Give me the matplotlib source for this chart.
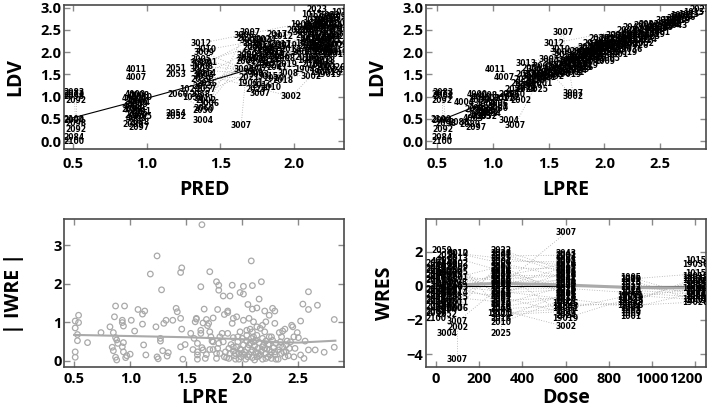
import matplotlib
matplotlib.use("Agg")
import matplotlib.pyplot as plt
from matplotlib.transforms import ScaledTranslation

# observations: subject id, population pred, individual pred (log), log DV, dose, WRES
ID = [
    # pred ~0.5
    2083, 2073, 2098, 2092, 2100, 2094, 2098, 2092, 2084, 2100,
    # pred ~0.9
    4011, 4007, 4000, 4008, 4010, 4002, 4006, 4004, 4009, 4001,
    2097, 2099, 2096, 2091, 2095, 2093, 4005, 4003, 2088, 2089,
    # pred ~1.2-1.4
    2051, 2053, 2060, 2054, 2052, 1052, 1024, 3004, 2050, 2060,
    3012, 3013, 3002, 3010, 3009, 3005, 3001, 3008, 3003, 3014,
    3015, 2059, 2056, 2055, 2057, 2058, 3011, 3006, 3007, 2002,
    # dose 300
    2022, 2028, 2025, 3006, 3001, 3014, 2030, 2011, 2036, 2006,
    2009, 2013, 2026, 2041, 3005, 3009, 3003, 3015, 2020, 2018,
    19001, 2016, 2010, 2025, 3008, 3002, 2008, 2050, 2055, 2057, 3007,
    2001, 2004, 2007, 2012, 2014, 2015, 2017, 2019, 2021, 2024,
    # dose 600
    3007, 2043, 2003, 2005, 2011, 2013, 2022, 2028, 2036, 2041,
    2006, 2009, 2020, 2026, 2030, 2016, 2018, 2010, 2023, 19026,
    19043, 19001, 19019, 3002, 3010, 3012, 3013, 3001, 3005, 3009,
    2001, 2004, 2007, 2012, 2014, 2015, 2017, 2019, 2021, 2024,
    # dose 900
    1001, 1005, 1009, 1015, 1019, 1023, 1024, 1052, 19001, 19019,
    19036, 19043, 19026, 1001, 1005, 1009, 1015, 1019, 1023, 1024,
    # dose 1200
    1015, 19036, 19019, 19043, 1001, 1005, 1009, 1019, 1023, 1024,
    1052, 19001, 19026, 1015, 19036, 19019, 1001, 1005, 1009, 1052,
]

PRED = [
    0.51, 0.51, 0.51, 0.52, 0.51, 0.51, 0.52, 0.52, 0.51, 0.51,
    0.93, 0.93, 0.92, 0.95, 0.97, 0.90, 0.93, 0.96, 0.94, 0.91,
    0.95, 0.92, 0.90, 0.96, 0.94, 0.92, 0.97, 0.93, 0.95, 0.91,
    1.20, 1.20, 1.21, 1.20, 1.20, 1.31, 1.29, 1.38, 1.38, 1.39,
    1.37, 1.36, 1.38, 1.40, 1.39, 1.37, 1.41, 1.38, 1.36, 1.40,
    1.39, 1.37, 1.41, 1.38, 1.40, 1.36, 1.39, 1.42, 1.64, 1.40,
    1.68, 1.72, 1.75, 1.66, 1.70, 1.78, 1.82, 1.86, 1.90, 1.68,
    1.74, 1.80, 1.84, 1.88, 1.66, 1.72, 1.76, 1.82, 1.86, 1.92,
    1.70, 1.78, 1.84, 1.74, 1.96, 1.98, 1.94, 1.68, 1.80, 1.88, 1.77,
    1.67, 1.71, 1.75, 1.79, 1.83, 1.87, 1.91, 1.95, 1.69, 1.81,
    1.70, 2.06, 2.10, 2.14, 2.08, 2.18, 2.22, 2.12, 2.16, 2.20,
    2.05, 2.24, 2.10, 2.14, 2.18, 2.07, 2.21, 2.12, 2.15, 2.26,
    2.09, 2.19, 2.23, 2.11, 2.17, 2.13, 2.20, 2.06, 2.25, 2.28,
    1.72, 1.78, 1.85, 1.92, 1.98, 1.76, 1.88, 1.95, 2.02, 1.82,
    2.10, 2.15, 2.20, 2.25, 2.30, 2.08, 2.12, 2.18, 2.22, 2.27,
    2.31, 2.06, 2.14, 2.19, 2.24, 2.29, 2.09, 2.16, 2.21, 2.26,
    2.12, 2.18, 2.22, 2.27, 2.31, 2.14, 2.20, 2.25, 2.30, 2.11,
    2.17, 2.23, 2.28, 2.32, 2.15, 2.21, 2.26, 2.13, 2.19, 2.24,
]

LPRE = [
    0.56, 0.55, 0.56, 0.55, 0.54, 0.55, 0.58, 0.56, 0.55, 0.55,
    1.02, 1.10, 0.86, 0.95, 0.90, 0.98, 0.88, 0.75, 0.94, 1.05,
    0.85, 0.88, 0.84, 0.92, 0.96, 0.86, 0.90, 0.83, 0.70, 0.80,
    1.35, 1.30, 1.20, 0.98, 0.95, 1.15, 1.30, 1.15, 0.98, 1.05,
    1.55, 1.30, 1.37, 1.60, 1.62, 1.50, 1.55, 1.45, 1.40, 1.42,
    1.35, 1.28, 1.25, 1.30, 1.20, 1.15, 1.10, 1.05, 1.20, 1.25,
    1.95, 1.90, 1.85, 2.10, 2.00, 1.95, 1.85, 1.80, 1.75, 1.72,
    1.68, 1.70, 1.62, 1.58, 1.55, 1.52, 1.50, 1.45, 1.40, 1.38,
    1.42, 1.35, 1.30, 1.40, 1.60, 1.72, 1.88, 1.65, 1.78, 1.92, 1.72,
    1.70, 1.82, 1.60, 1.95, 1.75, 1.88, 2.02, 1.66, 1.48, 2.12,
    1.63, 2.25, 2.20, 2.35, 2.15, 2.05, 2.40, 2.10, 2.00, 1.95,
    1.90, 2.30, 2.12, 2.05, 1.98, 1.92, 1.85, 1.80, 2.85, 1.78,
    1.75, 1.70, 1.68, 1.55, 2.45, 2.55, 2.60, 2.50, 2.65, 2.70,
    2.00, 2.12, 1.88, 2.20, 1.95, 1.78, 2.25, 2.05, 2.32, 1.85,
    2.20, 2.25, 2.30, 2.35, 2.40, 2.15, 2.10, 2.05, 2.00, 1.95,
    2.45, 2.55, 2.50, 2.60, 2.28, 2.20, 1.90, 1.85, 1.80, 1.75,
    2.75, 2.70, 2.65, 2.62, 2.58, 2.52, 2.48, 2.45, 2.40, 2.38,
    2.35, 2.30, 2.28, 2.80, 2.22, 2.18, 2.12, 2.05, 2.00, 2.68,
]

LDV = [
    1.10, 1.04, 1.01, 0.92, 0.49, 0.45, 0.40, 0.26, 0.08, -0.02,
    1.60, 1.42, 1.05, 1.02, 0.98, 0.95, 0.90, 0.86, 0.82, 0.78,
    0.30, 0.74, 0.70, 0.66, 0.62, 0.58, 0.55, 0.50, 0.42, 0.38,
    1.62, 1.50, 1.05, 0.62, 0.56, 0.98, 1.15, 0.45, 0.68, 0.72,
    2.20, 1.75, 1.50, 2.05, 1.98, 1.84, 1.76, 1.68, 1.60, 1.52,
    1.45, 1.38, 1.30, 1.22, 1.15, 1.05, 0.95, 0.85, 0.35, 0.90,
    2.30, 2.20, 2.10, 2.38, 2.25, 2.15, 2.05, 1.98, 1.90, 1.85,
    1.80, 1.75, 1.70, 1.65, 1.60, 1.55, 1.50, 1.45, 1.40, 1.35,
    1.30, 1.25, 1.20, 1.16, 1.52, 1.00, 1.85, 1.92, 2.02, 2.12, 1.06,
    1.78, 1.95, 1.62, 2.08, 1.82, 2.00, 2.18, 1.72, 1.42, 2.28,
    2.44, 2.55, 2.48, 2.60, 2.38, 2.30, 2.62, 2.22, 2.15, 2.08,
    2.00, 2.35, 2.12, 2.02, 1.95, 1.88, 1.80, 1.72, 2.95, 1.65,
    1.60, 1.55, 1.50, 1.45, 2.50, 2.70, 2.65, 2.45, 2.75, 2.80,
    2.10, 2.25, 1.95, 2.35, 2.05, 1.85, 2.40, 2.15, 2.48, 1.90,
    2.30, 2.40, 2.35, 2.45, 2.50, 2.20, 2.15, 2.10, 2.05, 2.00,
    2.55, 2.62, 2.58, 2.70, 2.25, 2.18, 1.80, 1.70, 1.65, 1.58,
    2.85, 2.78, 2.70, 2.60, 2.65, 2.55, 2.52, 2.40, 2.35, 2.28,
    2.20, 2.25, 2.15, 2.90, 2.05, 2.00, 1.95, 1.85, 1.78, 2.82,
]

DOSE = [
    0, 0, 0, 0, 0, 0, 0, 0, 0, 0,
    25, 25, 25, 25, 25, 25, 25, 25, 25, 25,
    0, 0, 0, 0, 0, 50, 50, 50, 50, 50,
    50, 50, 50, 50, 50, 75, 75, 50, 75, 75,
    100, 100, 100, 100, 100, 100, 100, 100, 100, 100,
    100, 25, 75, 75, 75, 75, 100, 100, 100, 100,
    300, 300, 300, 300, 300, 300, 300, 300, 300, 300,
    300, 300, 300, 300, 300, 300, 300, 300, 300, 300,
    300, 300, 300, 300, 300, 300, 300, 300, 300, 300, 100,
    300, 300, 300, 300, 300, 300, 300, 300, 300, 300,
    600, 600, 600, 600, 600, 600, 600, 600, 600, 600,
    600, 600, 600, 600, 600, 600, 600, 600, 600, 600,
    600, 600, 600, 600, 600, 600, 600, 600, 600, 600,
    600, 600, 600, 600, 600, 600, 600, 600, 600, 600,
    900, 900, 900, 900, 900, 900, 900, 900, 900, 900,
    900, 900, 900, 900, 900, 900, 900, 900, 900, 900,
    1200, 1200, 1200, 1200, 1200, 1200, 1200, 1200, 1200, 1200,
    1200, 1200, 1200, 1200, 1200, 1200, 1200, 1200, 1200, 1200,
]

WRES = [
    1.3, 0.9, 0.6, 0.3, -0.2, -0.5, -0.8, -1.2, -1.5, -1.9,
    1.4, 1.1, 0.8, 0.5, 0.2, -0.1, -0.4, -0.7, -1.0, -1.3,
    -1.6, 1.0, 0.4, -0.3, -0.9, 1.2, 0.7, 0.1, -0.5, -1.1,
    1.8, 1.5, -0.2, -1.4, -1.7, 0.3, 0.0, -2.8, -1.0, -1.3,
    1.9, 1.6, 1.3, 1.9, 1.1, 0.8, 0.5, 0.2, -0.1, -0.4,
    -0.7, 2.1, 0.9, 0.6, -0.3, -0.6, -1.0, -1.3, -4.3, -2.45,
    2.10, 1.90, 1.60, 1.35, 1.15, 0.95, 0.75, 0.55, 0.40, 0.25,
    0.10, -0.05, -0.20, -0.35, -0.50, -0.65, -0.80, -0.95, -1.10, -1.25,
    -1.60, -1.90, -2.15, -2.80, 0.60, -1.40, 0.20, 1.00, 0.30, -0.60, -2.10,
    1.75, 1.45, 1.05, 0.65, 0.05, -0.40, -0.85, -1.35, -1.70, 0.85,
    3.10, 1.90, 1.70, 1.50, 1.30, 1.10, 0.90, 0.75, 0.60, 0.45,
    0.30, 0.15, 0.00, -0.15, -0.30, -0.45, -0.60, -0.75, -0.90, -1.05,
    -1.20, -1.35, -1.90, -2.40, 1.20, 0.50, -0.20, -0.50, 0.80, -1.60,
    1.80, 1.40, 1.00, 0.65, 0.20, -0.25, -0.70, -1.15, -1.50, -1.75,
    -1.80, 0.50, 0.35, 0.20, 0.05, -0.10, -0.25, -0.40, -0.55, -0.70,
    -0.85, -1.00, -1.15, -1.30, -1.45, -1.60, 0.40, -0.35, -0.75, -1.20,
    1.50, 1.25, 0.55, 0.45, 0.25, 0.10, -0.05, -0.20, -0.35, -0.50,
    -0.65, -0.80, -0.95, 0.70, 0.30, -0.15, -0.40, -0.60, -0.85, 0.00,
]

# |IWRE| vs LPRE scatter
IWRE_X = [
    1.64, 1.24, 2.08, 1.18, 1.46, 1.45, 1.71, 1.28, 1.63, 1.77,
    1.79, 1.79, 1.83, 1.89, 1.91, 2.01, 2.09, 2.17, 1.98, 2.01,
    2.15, 2.59, 2.54, 2.67, 2.59, 2.05, 2.09, 2.13, 2.20, 2.27,
    2.29, 2.24, 1.87, 1.87, 1.66, 1.78, 1.84, 1.74, 1.68, 1.65,
    1.59, 1.58, 1.92, 1.95, 2.01, 2.06, 2.10, 2.21, 2.29, 2.52,
    2.82, 2.82,
    0.51, 0.54, 0.54, 0.51, 0.53, 0.53, 0.51, 0.51, 0.62, 0.74,
    0.82, 0.87, 0.86, 0.85, 0.87, 0.88, 0.89, 0.84, 0.85, 0.87,
    0.88, 0.93, 0.93, 0.94, 0.95, 0.94, 0.93, 0.94, 0.96, 0.97,
    1.00, 1.01, 1.04, 1.07, 1.11, 1.11, 1.13, 1.12, 1.14, 1.23,
    1.24, 1.25, 1.27, 1.27, 1.29, 1.30, 1.32, 1.33, 1.34, 1.38,
    1.41, 1.42, 1.45, 1.46, 1.45, 1.47, 1.49, 1.54, 1.56, 1.57,
    1.59, 1.60, 1.60, 1.60, 1.60, 1.63, 1.63, 1.64, 1.65, 1.67,
    1.69, 1.70, 1.71, 1.72, 1.73, 1.71, 1.74, 1.77, 1.77, 1.78,
    1.79, 1.80, 1.82, 1.83, 1.85, 1.86, 1.87, 1.88, 1.89, 1.90,
    1.91, 1.92, 1.92, 1.93, 1.94, 1.95, 1.96, 1.97, 1.98, 1.98,
    1.99, 2.00, 2.01, 2.02, 2.03, 2.04, 2.04, 2.05, 2.06, 2.07,
    2.07, 2.08, 2.09, 2.09, 2.10, 2.11, 2.12, 2.12, 2.13, 2.14,
    2.15, 2.15, 2.16, 2.17, 2.18, 2.18, 2.19, 2.20, 2.21, 2.21,
    2.22, 2.23, 2.24, 2.24, 2.26, 2.26, 2.27, 2.28, 2.29, 2.30,
    2.32, 2.32, 2.33, 2.34, 2.35, 2.36, 2.36, 2.38, 2.38, 2.39,
    2.40, 2.42, 2.44, 2.45, 2.46, 2.47, 2.49, 2.50, 2.52, 2.55,
    2.56, 2.59, 2.65, 2.73,
    1.94, 1.99, 2.05, 2.11, 2.14, 2.18, 2.21, 2.24, 2.26, 2.30,
    2.33, 2.37, 2.41, 1.88, 1.97, 2.02, 2.08, 2.13, 2.16, 2.20,
    2.23, 2.25, 2.29, 2.10, 2.06, 2.00, 1.92, 1.96, 2.04, 2.09,
    2.13, 2.18, 1.74, 1.68, 1.80, 1.84, 2.35, 2.39, 2.43, 2.46,
]
IWRE_Y = [
    3.53, 2.72, 2.59, 2.25, 2.41, 2.29, 2.31, 1.84, 1.92, 2.05,
    1.96, 1.83, 1.68, 1.68, 1.96, 1.93, 1.95, 2.05, 1.77, 1.73,
    1.60, 1.79, 1.47, 1.44, 1.33, 1.46, 1.34, 1.37, 1.29, 1.36,
    1.29, 1.18, 1.29, 1.25, 1.34, 1.33, 1.20, 1.11, 1.07, 0.98,
    1.10, 1.01, 1.10, 1.14, 1.05, 1.10, 1.01, 1.01, 0.97, 1.03,
    1.07, 0.35,
    1.03, 1.18, 0.99, 0.85, 0.68, 0.52, 0.23, 0.09, 0.47, 0.73,
    0.88, 1.42, 1.14, 0.73, 0.60, 0.54, 0.45, 0.35, 0.26, 0.09,
    0.02, 1.05, 0.99, 0.90, 1.42, 0.47, 0.36, 0.23, 0.08, 0.13,
    0.17, 1.05, 0.77, 1.33, 0.95, 1.21, 1.29, 0.41, 0.15, 0.88,
    0.10, 0.05, 0.51, 0.58, 0.26, 0.97, 1.05, 0.12, 0.21, 1.05,
    1.36, 1.27, 1.10, 0.82, 0.36, 0.04, 0.42, 0.71, 0.29, 0.58,
    1.08, 0.45, 0.23, 0.15, 0.04, 0.79, 0.71, 0.34, 0.28, 0.06,
    0.91, 0.97, 0.75, 0.62, 0.51, 0.29, 0.29, 0.06, 0.19, 0.32,
    0.45, 0.62, 0.71, 0.49, 0.23, 0.08, 0.71, 0.32, 0.19, 0.42,
    0.97, 0.60, 0.25, 0.13, 0.04, 0.36, 0.49, 0.19, 0.75, 0.30,
    0.10, 0.58, 0.41, 0.23, 0.04, 0.51, 0.66, 0.34, 0.16, 0.82,
    0.45, 0.58, 0.28, 0.08, 0.62, 0.38, 0.22, 0.53, 0.66, 0.32,
    0.13, 0.47, 0.84, 0.25, 0.58, 0.04, 0.41, 0.75, 0.19, 0.51,
    0.30, 0.10, 0.62, 0.42, 0.23, 0.06, 0.53, 0.34, 0.16, 0.45,
    0.28, 0.04, 0.73, 0.49, 0.19, 0.77, 0.36, 0.10, 0.82, 0.23,
    0.51, 0.32, 0.92, 0.88, 0.10, 0.32, 0.73, 0.60, 0.15, 0.06,
    0.51, 0.28, 0.28, 0.22,
    0.19, 0.28, 0.10, 0.02, 0.19, 0.36, 0.06, 0.28, 0.62, 0.04,
    0.36, 0.23, 0.13, 0.06, 0.04, 0.15, 0.23, 0.10, 0.16, 0.32,
    0.42, 0.15, 0.23, 0.49, 0.41, 0.19, 0.36, 0.62, 0.79, 0.75,
    0.88, 0.92, 0.49, 0.16, 0.19, 0.10, 0.62, 0.41, 0.49, 0.62,
]

# smooths
SMOOTH1_X = [0.50, 1.00, 1.50, 1.70, 2.00, 2.30]
SMOOTH1_Y = [0.52, 0.96, 1.42, 1.62, 1.98, 2.25]
SMOOTH2_X = [0.55, 0.85, 1.50, 2.00, 2.50, 2.88]
SMOOTH2_Y = [0.48, 0.78, 1.45, 1.95, 2.45, 2.88]
SMOOTH3_X = [0.50, 1.00, 1.50, 2.00, 2.30, 2.50, 2.83]
SMOOTH3_Y = [0.67, 0.64, 0.61, 0.56, 0.48, 0.47, 0.52]
SMOOTH4_X = [0, 100, 300, 600, 900, 1200, 1250]
SMOOTH4_Y = [0.02, 0.05, 0.15, 0.05, -0.10, -0.12, -0.12]

TICKS_LDV = [0.0, 0.5, 1.0, 1.5, 2.0, 2.5, 3.0]
TICKS_PRED = [0.5, 1.0, 1.5, 2.0]
TICKS_LPRE = [0.5, 1.0, 1.5, 2.0, 2.5]
TICKS_IWRE = [0, 1, 2, 3]
TICKS_WRES = [-4, -2, 0, 2]
TICKS_DOSE = [0, 200, 400, 600, 800, 1000, 1200]

plt.rcParams["font.family"] = ["Open Sans", "DejaVu Sans"]

SPINE = "#4a4a4a"
DOTS = "#a8a8a8"


def id_lines(ax, xs, ys):
    for sid in sorted(set(ID)):
        pts = sorted((x, y) for i, x, y in zip(ID, xs, ys) if i == sid)
        if len(pts) > 1:
            ax.plot([p[0] for p in pts], [p[1] for p in pts],
                    linestyle=(0, (1, 2)), color=DOTS, lw=0.6, zorder=1)


def id_labels(ax, xs, ys):
    for i, x, y in zip(ID, xs, ys):
        ax.text(x, y, str(i), fontsize=5.5, fontweight="bold",
                family="DejaVu Sans", ha="center", va="center",
                clip_on=True, zorder=3)


def style_axes(ax, xlim, ylim, xticks, yticks, xlabel, ylabel, fmt, ypad,
               xpad=6, xlabelpad=6):
    ax.set_xlim(*xlim)
    ax.set_ylim(*ylim)
    ax.set_xticks(xticks)
    ax.set_yticks(yticks)
    ax.set_xticklabels([fmt[0].format(t) for t in xticks])
    ax.set_yticklabels([fmt[1].format(t).replace("-", "\u2212") for t in yticks])
    ax.tick_params(direction="in", top=True, right=True, length=4,
                   width=1.0, color="#8a8a8a", labelsize=10.5)
    for lab in ax.get_xticklabels() + ax.get_yticklabels():
        lab.set_fontweight("bold")
    ax.tick_params(axis="y", pad=2)
    ax.tick_params(axis="x", pad=xpad)
    for sp in ax.spines.values():
        sp.set_color(SPINE)
        sp.set_linewidth(1.2)
    ax.set_xlabel(xlabel, fontsize=14, fontweight="bold", labelpad=xlabelpad)
    ax.set_ylabel(ylabel, fontsize=14, fontweight="bold", labelpad=ypad)


def main():
    fig = plt.figure(figsize=(7.1, 4.13), dpi=100)

    ax1 = fig.add_axes([0.0906, 0.6392, 0.3944, 0.3499])
    id_lines(ax1, PRED, LDV)
    ax1.plot(SMOOTH1_X, SMOOTH1_Y, color="black", lw=0.8, zorder=2)
    id_labels(ax1, PRED, LDV)
    style_axes(ax1, (0.443, 2.339), (-0.18, 3.07), TICKS_PRED, TICKS_LDV,
               "PRED", "LDV", ("{:.1f}", "{:.1f}"), 11)

    ax2 = fig.add_axes([0.6, 0.6392, 0.3944, 0.3499])
    id_lines(ax2, LPRE, LDV)
    ax2.plot(SMOOTH2_X, SMOOTH2_Y, color="black", lw=0.8, zorder=2)
    id_labels(ax2, LPRE, LDV)
    style_axes(ax2, (0.405, 2.908), (-0.18, 3.07), TICKS_LPRE, TICKS_LDV,
               "LPRE", "LDV", ("{:.1f}", "{:.1f}"), 11)

    ax3 = fig.add_axes([0.0906, 0.1121, 0.3944, 0.3569])
    ax3.scatter(IWRE_X, IWRE_Y, s=16, facecolors="none", edgecolors="#a9a9a9",
                linewidths=0.9, zorder=2)
    ax3.plot(SMOOTH3_X, SMOOTH3_Y, color="#aaaaaa", lw=1.5, zorder=3)
    style_axes(ax3, (0.413, 2.91), (-0.155, 3.67), TICKS_LPRE, TICKS_IWRE,
               "LPRE", "| IWRE |", ("{:.1f}", "{:d}"), 21, xpad=4, xlabelpad=1)

    ax4 = fig.add_axes([0.6, 0.1121, 0.3944, 0.3569])
    id_lines(ax4, DOSE, WRES)
    ax4.plot([-46, 1250], [0, 0], color="black", lw=0.8, zorder=2)
    ax4.plot(SMOOTH4_X, SMOOTH4_Y, color="#aaaaaa", lw=2.2, zorder=2)
    id_labels(ax4, DOSE, WRES)
    style_axes(ax4, (-46, 1250), (-4.74, 3.9), TICKS_DOSE, TICKS_WRES,
               "Dose", "WRES", ("{:d}", "{:d}"), 8, xpad=4, xlabelpad=1)
    # keep the last dose label inside the figure
    last = ax4.get_xticklabels()[-1]
    last.set_transform(last.get_transform() + ScaledTranslation(-7 / 72, 0, fig.dpi_scale_trans))

    fig.savefig("out.png", dpi=100)
    plt.close(fig)


if __name__ == "__main__":
    main()
